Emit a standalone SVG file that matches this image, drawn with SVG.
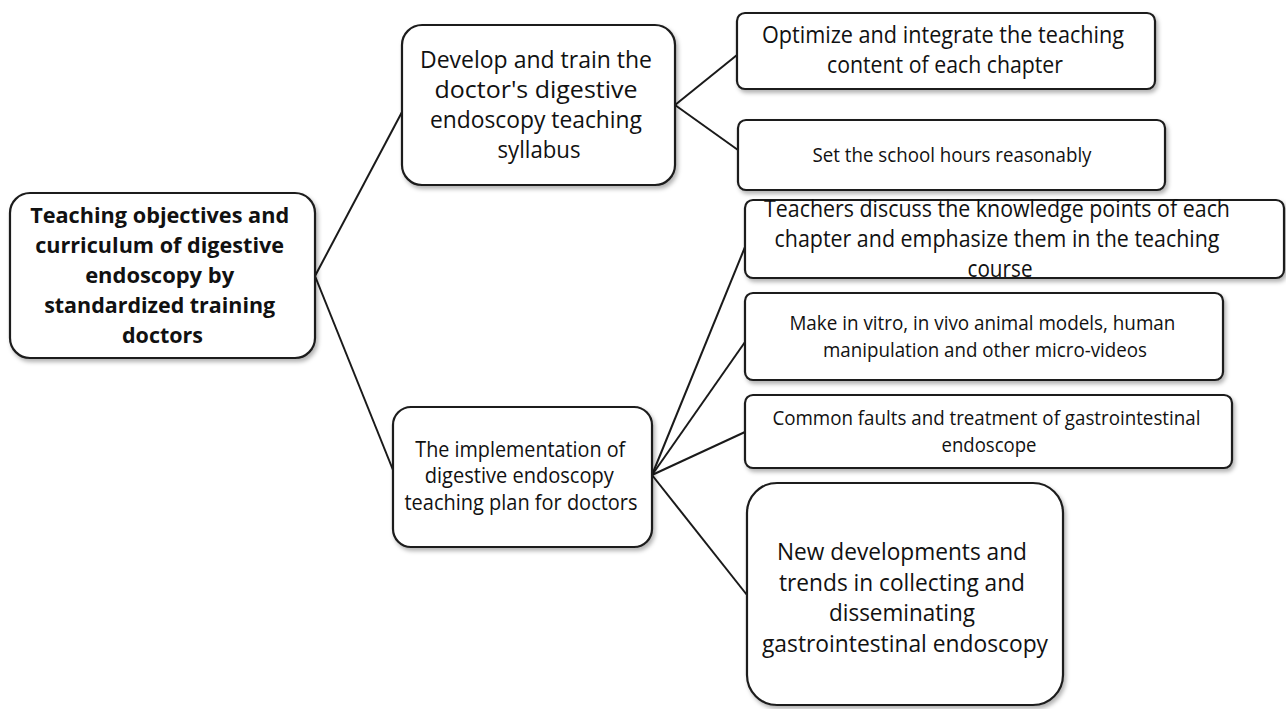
<svg xmlns="http://www.w3.org/2000/svg" width="1286" height="709" viewBox="0 0 1286 709">
  <defs>
    <filter id="shadow" x="-10%" y="-10%" width="125%" height="130%">
      <feDropShadow dx="2" dy="3" stdDeviation="2" flood-color="#000" flood-opacity="0.3"/>
    </filter>
  </defs>
  <style>
    .box { fill: #ffffff; stroke: #1e1e1e; stroke-width: 2.2; filter: url(#shadow); }
    .lbl { font-family: "Open Sans", "Noto Sans", "Liberation Sans", sans-serif; fill: #111; text-anchor: middle; }
    .bold { font-weight: bold; }
    .link { stroke: #1a1a1a; stroke-width: 2; fill: none; }
  </style>
  <rect width="1286" height="709" fill="#ffffff"/>

  <!-- connectors -->
  <g id="connectors">
    <line class="link" x1="315" y1="276" x2="402" y2="112"/>
    <line class="link" x1="315" y1="276" x2="393" y2="470"/>
    <line class="link" x1="675" y1="105" x2="737" y2="55"/>
    <line class="link" x1="675" y1="105" x2="738" y2="150"/>
    <line class="link" x1="652" y1="475" x2="745" y2="247"/>
    <line class="link" x1="652" y1="475" x2="745" y2="342"/>
    <line class="link" x1="652" y1="475" x2="745" y2="432"/>
    <line class="link" x1="652" y1="475" x2="747" y2="595"/>
  </g>

  <!-- root -->
  <g id="root">
    <rect class="box" x="10" y="193" width="305" height="165" rx="20"/>
    <text class="lbl bold" font-size="22">
      <tspan x="162.5" y="223" textLength="259" lengthAdjust="spacingAndGlyphs">Teaching objectives and</tspan>
      <tspan x="162.5" y="253" textLength="249" lengthAdjust="spacingAndGlyphs">curriculum of digestive</tspan>
      <tspan x="162.5" y="283" textLength="149" lengthAdjust="spacingAndGlyphs">endoscopy by</tspan>
      <tspan x="162.5" y="313" textLength="231" lengthAdjust="spacingAndGlyphs">standardized training</tspan>
      <tspan x="162.5" y="343" textLength="81" lengthAdjust="spacingAndGlyphs">doctors</tspan>
    </text>
  </g>

  <!-- first branch -->
  <g id="syllabus">
    <rect class="box" x="402" y="25" width="273" height="160" rx="20"/>
    <text class="lbl" font-size="23">
      <tspan x="539" y="68" textLength="232" lengthAdjust="spacingAndGlyphs">Develop and train the</tspan>
      <tspan x="539" y="98" textLength="203" lengthAdjust="spacingAndGlyphs">doctor's digestive</tspan>
      <tspan x="539" y="128" textLength="212" lengthAdjust="spacingAndGlyphs">endoscopy teaching</tspan>
      <tspan x="539" y="158" textLength="83" lengthAdjust="spacingAndGlyphs">syllabus</tspan>
    </text>
  </g>

  <g id="optimize">
    <rect class="box" x="737" y="13" width="418" height="76" rx="8"/>
    <text class="lbl" font-size="23">
      <tspan x="946" y="43" textLength="362" lengthAdjust="spacingAndGlyphs">Optimize and integrate the teaching</tspan>
      <tspan x="945" y="73" textLength="236" lengthAdjust="spacingAndGlyphs">content of each chapter</tspan>
    </text>
  </g>

  <g id="hours">
    <rect class="box" x="738" y="120" width="427" height="70" rx="8"/>
    <text class="lbl" font-size="20">
      <tspan x="952" y="162" textLength="279" lengthAdjust="spacingAndGlyphs">Set the school hours reasonably</tspan>
    </text>
  </g>

  <!-- second branch -->
  <g id="implementation">
    <rect class="box" x="393" y="407" width="259" height="140" rx="18"/>
    <text class="lbl" font-size="21">
      <tspan x="523" y="457" textLength="210" lengthAdjust="spacingAndGlyphs">The implementation of</tspan>
      <tspan x="522" y="483" textLength="189" lengthAdjust="spacingAndGlyphs">digestive endoscopy</tspan>
      <tspan x="521" y="510" textLength="233" lengthAdjust="spacingAndGlyphs">teaching plan for doctors</tspan>
    </text>
  </g>

  <g id="knowledge">
    <rect class="box" x="745" y="200" width="539" height="78" rx="8"/>
    <text class="lbl" font-size="23">
      <tspan x="1000" y="217" textLength="466" lengthAdjust="spacingAndGlyphs">Teachers discuss the knowledge points of each</tspan>
      <tspan x="1000" y="247" textLength="445" lengthAdjust="spacingAndGlyphs">chapter and emphasize them in the teaching</tspan>
      <tspan x="1000" y="277" textLength="65" lengthAdjust="spacingAndGlyphs">course</tspan>
    </text>
  </g>

  <g id="videos">
    <rect class="box" x="745" y="293" width="478" height="87" rx="8"/>
    <text class="lbl" font-size="20">
      <tspan x="985" y="330" textLength="386" lengthAdjust="spacingAndGlyphs">Make in vitro, in vivo animal models, human</tspan>
      <tspan x="985" y="357" textLength="324" lengthAdjust="spacingAndGlyphs">manipulation and other micro-videos</tspan>
    </text>
  </g>

  <g id="faults">
    <rect class="box" x="745" y="395" width="487" height="73" rx="8"/>
    <text class="lbl" font-size="20">
      <tspan x="989" y="425" textLength="428" lengthAdjust="spacingAndGlyphs">Common faults and treatment of gastrointestinal</tspan>
      <tspan x="989" y="452" textLength="95" lengthAdjust="spacingAndGlyphs">endoscope</tspan>
    </text>
  </g>

  <g id="trends">
    <rect class="box" x="747" y="483" width="316" height="222" rx="30"/>
    <text class="lbl" font-size="23">
      <tspan x="905" y="560" textLength="250" lengthAdjust="spacingAndGlyphs">New developments and</tspan>
      <tspan x="905" y="591" textLength="246" lengthAdjust="spacingAndGlyphs">trends in collecting and</tspan>
      <tspan x="905" y="621" textLength="146" lengthAdjust="spacingAndGlyphs">disseminating</tspan>
      <tspan x="905" y="652" textLength="286" lengthAdjust="spacingAndGlyphs">gastrointestinal endoscopy</tspan>
    </text>
  </g>
</svg>
